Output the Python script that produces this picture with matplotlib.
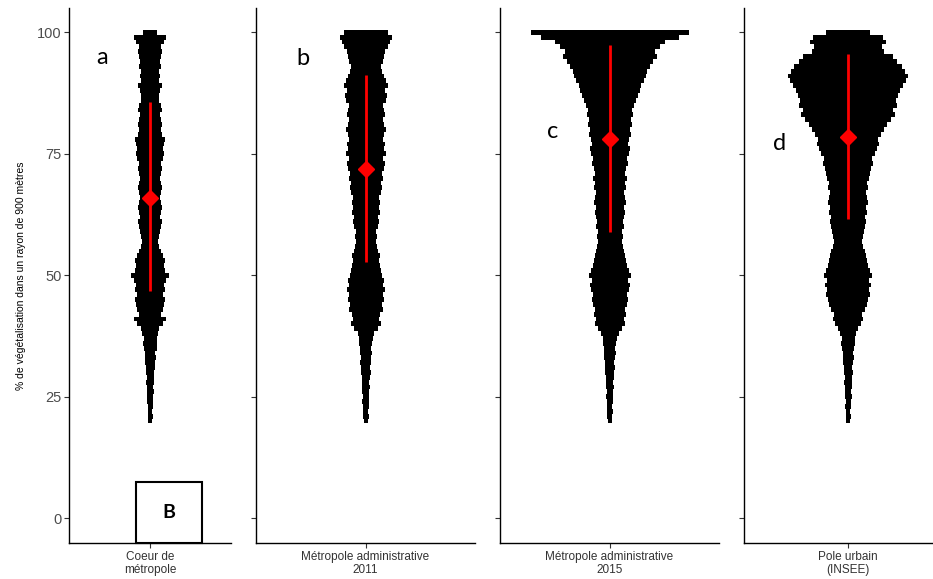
import numpy as np
import matplotlib.pyplot as plt
from matplotlib.patches import Rectangle

# y bins (% vegetation), one value per unit from 20 to 100
LEVELS = np.arange(20, 101)

# stack widths (reference pixels) for each panel, bottom (20) to top (100)
WIDTH_A = [4, 5, 4, 5, 6, 6, 7, 6, 8, 7,
           8, 9, 10, 11, 10, 13, 14, 13, 16, 18,
           26, 32, 22, 26, 28, 30, 26, 30, 28, 32,
           38, 30, 28, 30, 26, 22, 18, 16, 18, 20,
           22, 24, 20, 22, 24, 22, 20, 22, 24, 22,
           20, 22, 24, 22, 26, 28, 26, 28, 30, 24,
           22, 24, 22, 20, 24, 22, 18, 18, 20, 24,
           18, 20, 18, 22, 20, 22, 24, 22, 28, 32,
           14]
WIDTH_B = [4, 6, 5, 6, 7, 6, 7, 8, 7, 8,
           10, 9, 11, 10, 12, 11, 13, 14, 16, 24,
           30, 26, 28, 34, 32, 36, 34, 38, 34, 36,
           32, 30, 28, 26, 28, 24, 22, 20, 22, 20,
           24, 26, 24, 28, 26, 28, 26, 30, 32, 30,
           34, 32, 36, 38, 34, 40, 36, 38, 34, 36,
           40, 36, 34, 38, 36, 34, 40, 42, 38, 44,
           40, 36, 32, 30, 34, 36, 38, 44, 48, 52,
           44]
WIDTH_C = [4, 5, 6, 5, 6, 7, 6, 8, 7, 8,
           9, 10, 9, 11, 12, 11, 13, 14, 18, 24,
           30, 28, 32, 30, 34, 36, 34, 38, 40, 36,
           42, 38, 34, 32, 30, 28, 26, 24, 26, 24,
           28, 26, 28, 30, 28, 32, 30, 28, 32, 30,
           34, 30, 32, 36, 34, 38, 40, 36, 38, 42,
           40, 44, 42, 46, 44, 48, 52, 56, 60, 62,
           68, 72, 74, 80, 86, 94, 90, 100, 110, 138,
           158]
WIDTH_D = [4, 5, 4, 6, 5, 7, 6, 7, 8, 7,
           9, 8, 10, 11, 10, 12, 14, 13, 16, 20,
           26, 30, 28, 34, 38, 40, 44, 42, 46, 42,
           48, 44, 40, 38, 36, 34, 30, 28, 30, 32,
           34, 36, 34, 38, 36, 40, 38, 36, 40, 38,
           42, 44, 46, 50, 48, 54, 58, 62, 60, 66,
           72, 78, 86, 94, 90, 98, 96, 100, 104, 110,
           116, 120, 114, 108, 98, 90, 72, 68, 76, 70,
           44]

CATEGORIES = ['Coeur de\nmétropole', 'Métropole administrative\n2011',
              'Métropole administrative\n2015', 'Pole urbain\n(INSEE)']
PANEL_LETTERS = ['a', 'b', 'c', 'd']
MEANS = [66.0, 71.8, 78.0, 78.4]
LOWER = [46.7, 52.7, 58.8, 61.5]
UPPER = [85.6, 91.2, 97.3, 95.5]
YTICKS = [0, 25, 50, 75, 100]

W, H = 933, 579
# panel extents in pixels (left, right); last panel runs past the edge
PANELS = [(69, 231), (256, 475), (500, 719), (744, 952)]
LETTER_POS = [(-48, 94.9), (-63, 94.7), (-57, 79.6), (-68, 77.2)]
Y_BOTTOM, Y_TOP = 543, 8
GREY = '#4D4D4D'

fig = plt.figure(figsize=(W / 100, H / 100), dpi=100)
widths = [WIDTH_A, WIDTH_B, WIDTH_C, WIDTH_D]
for k, (x0, x1) in enumerate(PANELS):
    ax = fig.add_axes([x0 / W, 1 - Y_BOTTOM / H, (x1 - x0) / W, (Y_BOTTOM - Y_TOP) / H])
    half = (x1 - x0) / 2
    w = np.array(widths[k], dtype=float)
    ax.barh(LEVELS, w, left=-w / 2, height=1.0, color='black', linewidth=0)
    ax.plot([0, 0], [LOWER[k], UPPER[k]], color='red', lw=2, solid_capstyle='butt', zorder=3)
    ax.plot([0], [MEANS[k]], marker='D', ms=8, color='red', zorder=4)
    ax.text(LETTER_POS[k][0], LETTER_POS[k][1], PANEL_LETTERS[k], fontsize=17,
            family='Lato', ha='center', va='center')
    ax.set_xlim(-half, half)
    ax.set_ylim(-5.1, 105)
    for s in ['top', 'right']:
        ax.spines[s].set_visible(False)
    for s in ['left', 'bottom']:
        ax.spines[s].set_linewidth(1.0)
        ax.spines[s].set_color('black')
    ax.set_xticks([0])
    ax.set_xticklabels([CATEGORIES[k]], fontsize=8.5, color='#333333',
                       family='Liberation Sans', linespacing=1.1)
    ax.set_yticks(YTICKS)
    ax.tick_params(axis='both', length=3.5, width=0.8, color='#333333', pad=2)
    if k == 0:
        ax.set_yticklabels([str(t) for t in YTICKS], fontsize=10.5, color=GREY,
                           family='Liberation Sans')
        ax.set_ylabel('% de végétalisation dans un rayon de 900 mètres', fontsize=7.5,
                      family='Liberation Sans', labelpad=8)
        ax.add_patch(Rectangle((-14, -5.1), 66, 12.5, fill=False, edgecolor='black',
                               lw=1.5, zorder=5, clip_on=False))
        ax.text(19, 1.2, 'B', fontsize=14, fontweight='bold', family='Lato',
                ha='center', va='center')
    else:
        ax.set_yticklabels([])

fig.savefig('out.png', dpi=100)
